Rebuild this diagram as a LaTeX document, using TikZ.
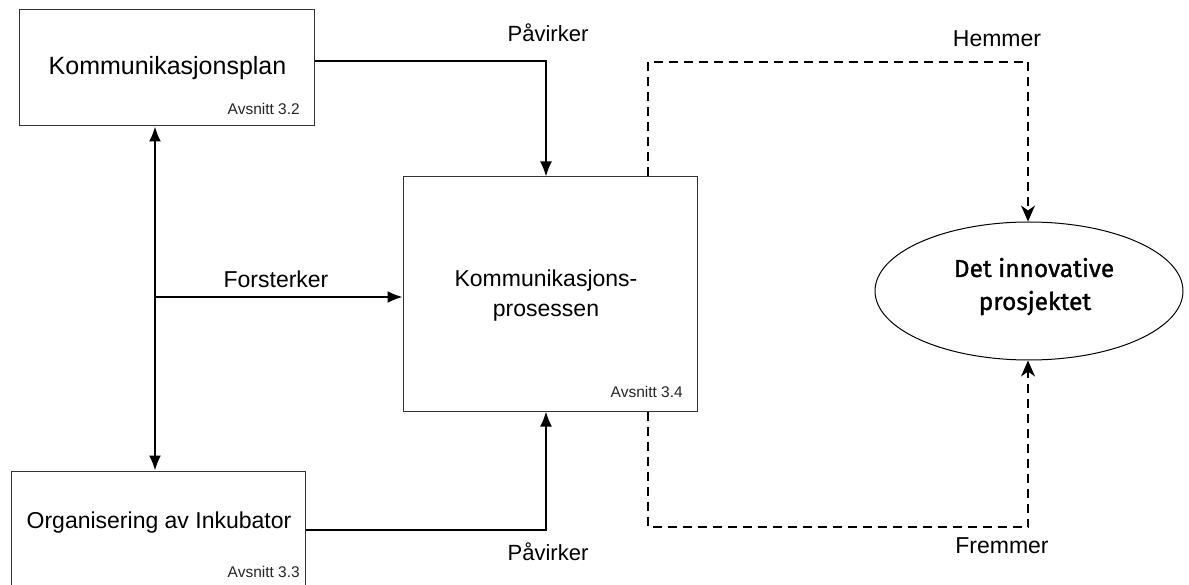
\documentclass[tikz,border=0pt]{standalone}
\usepackage{fontspec}
\setmainfont{Liberation Sans}
\newfontfamily\ellfont{Fira Sans}[FakeBold=1.2]
\usetikzlibrary{arrows.meta,shapes.geometric}
\tikzset{
  box/.style={draw=black!80, line width=1pt, inner sep=0pt},
  lbl/.style={inner sep=0pt, anchor=base, font=\fontsize{23}{30}\selectfont},
  sec/.style={inner sep=0pt, anchor=base east, font=\fontsize{15.5}{18}\selectfont, text=black!85},
  conn/.style={line width=1.8pt, -{Latex[length=15pt,width=12pt]}},
  dconn/.style={line width=1.8pt, dash pattern=on 9pt off 6pt, -{Stealth[length=16pt,width=14pt,inset=5pt]}},
  elbl/.style={inner sep=0pt, anchor=base, font=\ellfont\fontsize{24.5}{30}\selectfont},
}
\begin{document}
\begin{tikzpicture}[x=1pt,y=-1pt]
\useasboundingbox (0,0) rectangle (1189,585);
\clip (0,0) rectangle (1189,585);
\fill[white] (0,0) rectangle (1189,585);
% boxes
\node[box, minimum width=295pt, minimum height=116pt] (box1) at (167,68) {};
\node[box, minimum width=294pt, minimum height=118pt] (box2) at (158,530) {};
\node[box, minimum width=294pt, minimum height=234pt] (box3) at (550,294) {};
\node[draw, ellipse, line width=1pt, minimum width=308pt, minimum height=138pt, inner sep=0pt] (ell) at (1029,291) {};
% texts
\node[lbl, font=\fontsize{25}{30}\selectfont] (t1) at (167.5,75) {Kommunikasjonsplan};
\node[lbl] (t2) at (159,528) {Organisering av Inkubator};
\node[lbl] (t3a) at (546,287) {Kommunikasjons-};
\node[lbl] (t3b) at (546,317) {prosessen};
\node[elbl] (e1) at (1034,277) {Det innovative};
\node[elbl] (e2) at (1035,310) {prosjektet};
\node[sec] (s1) at (300,115) {Avsnitt 3.2};
\node[sec] (s2) at (300,577) {Avsnitt 3.3};
\node[sec] (s3) at (683,397) {Avsnitt 3.4};
% connector labels
\node[lbl, font=\fontsize{22}{30}\selectfont] (l1) at (548,42) {Påvirker};
\node[lbl] (l2) at (276,288) {Forsterker};
\node[lbl, font=\fontsize{22}{30}\selectfont] (l3) at (548,560) {Påvirker};
\node[lbl] (l4) at (997,47) {Hemmer};
\node[lbl] (l5) at (1002,553) {Fremmer};
% coordinates
\coordinate (j) at (155,297);
\coordinate (hc) at (648,62);
\coordinate (hd) at (1028,62);
\coordinate (fc) at (648,527);
\coordinate (fd) at (1028,527);
% solid connectors
\draw[conn] ([yshift=7pt]box1.east) -| ([xshift=-4pt]box3.north);
\draw[conn] (box2.east) -| ([xshift=-4pt]box3.south);
\draw[line width=1.8pt, {Latex[length=15pt,width=12pt]}-{Latex[length=15pt,width=12pt]}] ([xshift=-12pt]box1.south) -- ([xshift=-12pt]box1.south |- box2.north);
\draw[conn] (j) -- (j -| box3.west);
% dashed connectors
\draw[dconn] (hc |- box3.north) -- (hc) -- (hd) -- (hd |- ell.north);
\draw[dconn] (fc |- box3.south) -- (fc) -- (fd) -- (fd |- ell.south);
\end{tikzpicture}
\end{document}
